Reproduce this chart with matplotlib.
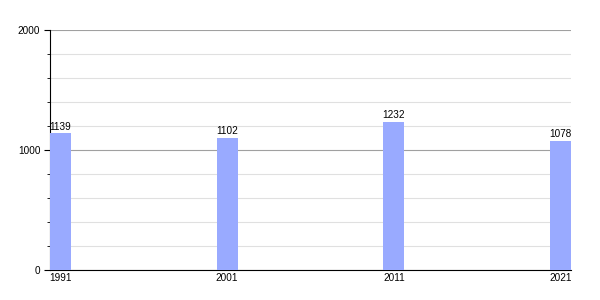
import matplotlib
matplotlib.use("Agg")
import matplotlib.pyplot as plt
from matplotlib.ticker import MultipleLocator

years = [1991, 2001, 2011, 2021]
population = [1139, 1102, 1232, 1078]

plt.rcParams['font.family'] = ['Liberation Sans', 'DejaVu Sans']

fig = plt.figure(figsize=(6, 3), dpi=100)
ax = fig.add_axes([50/600, 30/300, 521/600, 240/300])

ax.bar(years, population, width=1.26, color='#99aaff', zorder=3)
for x, v in zip(years, population):
    ax.text(x, v + 15, str(v), ha='center', va='bottom', fontsize=7.2, zorder=4)

ax.set_xlim(1990.37, 2021.63)
ax.set_ylim(0, 2000)
ax.set_xticks(years)
ax.set_xticklabels([str(y) for y in years])
ax.set_yticks([0, 1000, 2000])
ax.yaxis.set_minor_locator(MultipleLocator(200))
ax.grid(axis='y', which='minor', color='#e0e0e0', linewidth=0.8, zorder=0)
ax.grid(axis='y', which='major', color='#a0a0a0', linewidth=0.8, zorder=0)
ax.tick_params(axis='x', length=0, labelsize=7.2, pad=2)
ax.tick_params(axis='y', which='major', length=4, labelsize=7.2, pad=3)
ax.tick_params(axis='y', which='minor', length=2)
for s in ['top', 'right']:
    ax.spines[s].set_visible(False)
ax.spines['left'].set_linewidth(0.8)
ax.spines['bottom'].set_linewidth(0.8)

fig.savefig('out.png', dpi=100)
